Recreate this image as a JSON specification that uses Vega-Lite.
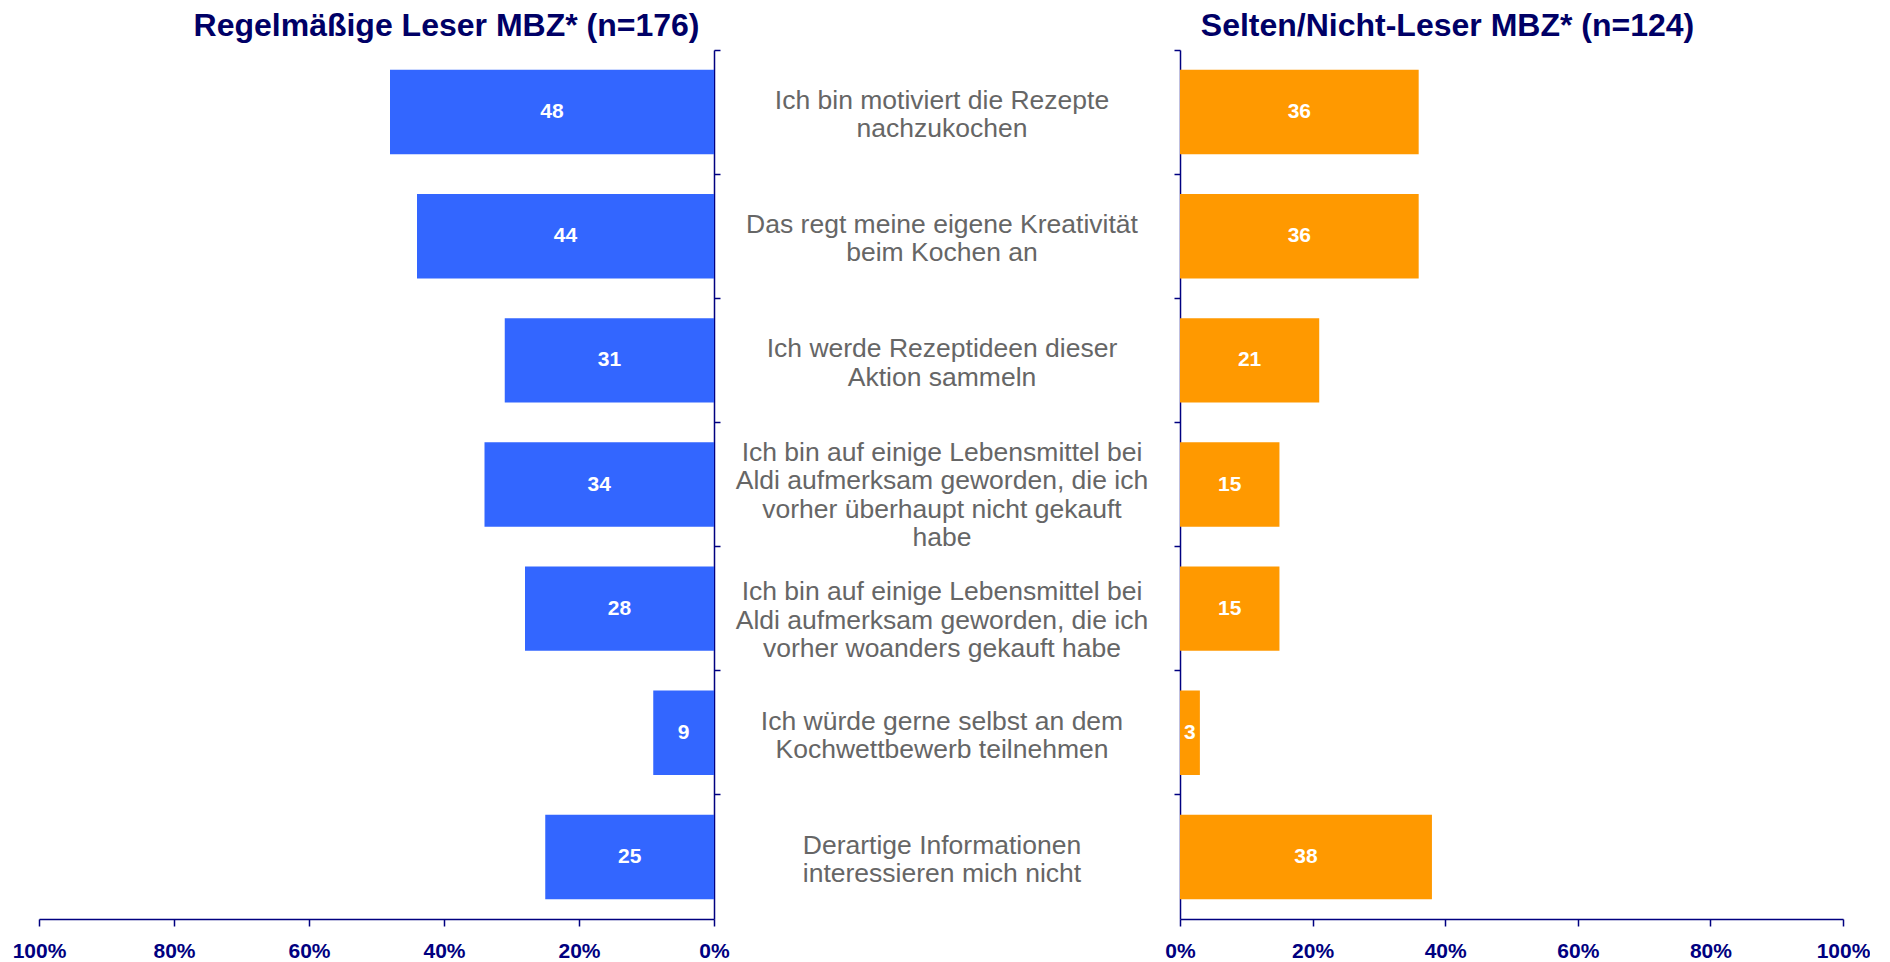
{
  "$schema": "https://vega.github.io/schema/vega-lite/v6.json",
  "padding": {"left": 12, "top": 10, "right": 0, "bottom": 0},
  "autosize": {"type": "pad"},
  "spacing": 0,
  "bounds": "flush",
  "config": {"view": {"stroke": null}, "font": "Liberation Sans"},
  "data": {"values": [
    {"id": 1, "label": "Ich bin motiviert die Rezepte\nnachzukochen", "regular": 48, "rare": 36},
    {"id": 2, "label": "Das regt meine eigene Kreativität\nbeim Kochen an", "regular": 44, "rare": 36},
    {"id": 3, "label": "Ich werde Rezeptideen dieser\nAktion sammeln", "regular": 31, "rare": 21},
    {"id": 4, "label": "Ich bin auf einige Lebensmittel bei\nAldi aufmerksam geworden, die ich\nvorher überhaupt nicht gekauft\nhabe", "regular": 34, "rare": 15},
    {"id": 5, "label": "Ich bin auf einige Lebensmittel bei\nAldi aufmerksam geworden, die ich\nvorher woanders gekauft habe", "regular": 28, "rare": 15},
    {"id": 6, "label": "Ich würde gerne selbst an dem\nKochwettbewerb teilnehmen", "regular": 9, "rare": 3},
    {"id": 7, "label": "Derartige Informationen\ninteressieren mich nicht", "regular": 25, "rare": 38}
  ]},
  "hconcat": [
    {
      "width": 675,
      "height": 869,
      "title": {"text": "Regelmäßige Leser MBZ* (n=176)", "fontSize": 32, "fontWeight": "bold", "color": "#000066", "dx": 70, "offset": -19, "baseline": "alphabetic"},
      "layer": [
        {
          "mark": {"type": "bar", "color": "#3366FF", "height": {"band": 0.68}},
          "encoding": {
            "y": {"field": "id", "type": "ordinal", "scale": {"paddingInner": 0, "paddingOuter": 0},
                  "axis": {"orient": "right", "labels": false, "title": null, "bandPosition": 0, "tickSize": 6, "domainColor": "#000080", "tickColor": "#000080", "domainWidth": 1.5, "tickWidth": 1.5}},
            "x": {"field": "regular", "type": "quantitative", "scale": {"domain": [0, 100], "reverse": true},
                  "axis": {"values": [0, 20, 40, 60, 80, 100], "labelExpr": "datum.value + '%'", "grid": false, "title": null, "tickSize": 7, "labelPadding": 14, "labelFontSize": 21, "labelFontWeight": "bold", "labelColor": "#000080", "domainColor": "#000080", "tickColor": "#000080", "domainWidth": 1.5, "tickWidth": 1.5, "labelFlush": false, "labelOverlap": false}}
          }
        },
        {
          "mark": {"type": "text", "color": "white", "fontWeight": "bold", "fontSize": 21, "baseline": "middle", "align": "center"},
          "encoding": {
            "y": {"field": "id", "type": "ordinal"},
            "x": {"field": "regular", "type": "quantitative", "stack": "zero", "bandPosition": 0.5},
            "text": {"field": "regular", "type": "quantitative"}
          }
        }
      ]
    },
    {
      "width": 466,
      "height": 869,
      "encoding": {
        "y": {"field": "id", "type": "ordinal", "scale": {"paddingInner": 0, "paddingOuter": 0}, "axis": null},
        "text": {"field": "label", "type": "nominal"}
      },
      "layer": [
        {
          "transform": [{"filter": {"field": "id", "oneOf": [1, 2, 3, 6, 7]}}],
          "mark": {"type": "text", "fontSize": 26.5, "lineHeight": 28.5, "color": "#666666", "lineBreak": "\n", "align": "center", "baseline": "middle", "dy": -11.25, "dx": -5}
        },
        {
          "transform": [{"filter": {"field": "id", "equal": 5}}],
          "mark": {"type": "text", "fontSize": 26.5, "lineHeight": 28.5, "color": "#666666", "lineBreak": "\n", "align": "center", "baseline": "middle", "dy": -16.5, "dx": -5}
        },
        {
          "transform": [{"filter": {"field": "id", "equal": 4}}],
          "mark": {"type": "text", "fontSize": 26.5, "lineHeight": 28.5, "color": "#666666", "lineBreak": "\n", "align": "center", "baseline": "middle", "dy": -31.75, "dx": -5}
        }
      ]
    },
    {
      "width": 663,
      "height": 869,
      "title": {"text": "Selten/Nicht-Leser MBZ* (n=124)", "fontSize": 32, "fontWeight": "bold", "color": "#000066", "dx": -64, "offset": -19, "baseline": "alphabetic"},
      "layer": [
        {
          "mark": {"type": "bar", "color": "#FF9900", "height": {"band": 0.68}},
          "encoding": {
            "y": {"field": "id", "type": "ordinal", "scale": {"paddingInner": 0, "paddingOuter": 0},
                  "axis": {"orient": "left", "labels": false, "title": null, "bandPosition": 0, "tickSize": 6, "domainColor": "#000080", "tickColor": "#000080", "domainWidth": 1.5, "tickWidth": 1.5}},
            "x": {"field": "rare", "type": "quantitative", "scale": {"domain": [0, 100]},
                  "axis": {"values": [0, 20, 40, 60, 80, 100], "labelExpr": "datum.value + '%'", "grid": false, "title": null, "tickSize": 7, "labelPadding": 14, "labelFontSize": 21, "labelFontWeight": "bold", "labelColor": "#000080", "domainColor": "#000080", "tickColor": "#000080", "domainWidth": 1.5, "tickWidth": 1.5, "labelFlush": false, "labelOverlap": false}}
          }
        },
        {
          "mark": {"type": "text", "color": "white", "fontWeight": "bold", "fontSize": 21, "baseline": "middle", "align": "center"},
          "encoding": {
            "y": {"field": "id", "type": "ordinal"},
            "x": {"field": "rare", "type": "quantitative", "stack": "zero", "bandPosition": 0.5},
            "text": {"field": "rare", "type": "quantitative"}
          }
        }
      ]
    }
  ]
}
